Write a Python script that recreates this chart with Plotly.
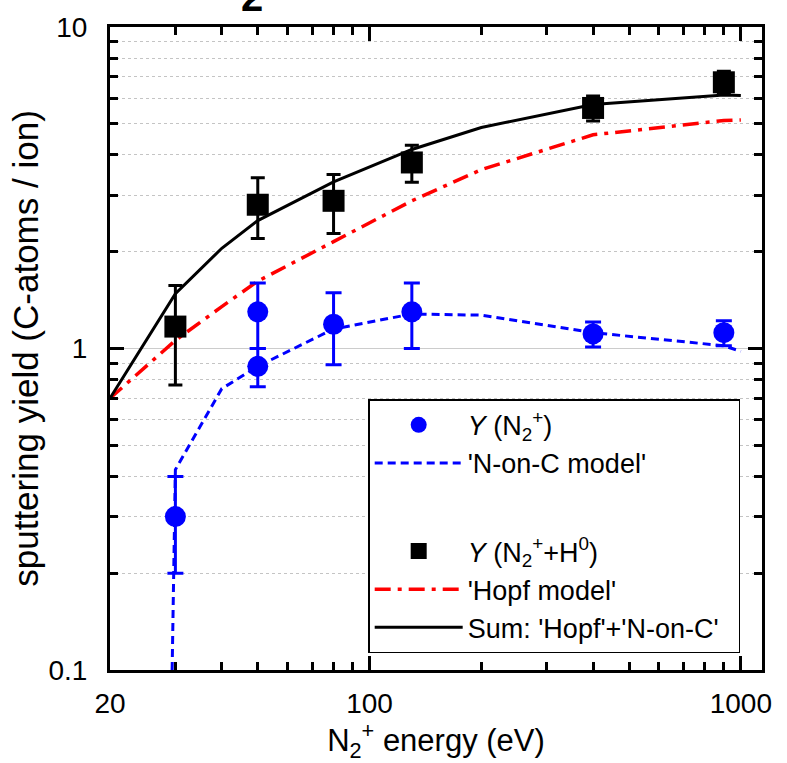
import plotly.graph_objects as go

# Measured sputtering yields, N2+ ions only
ion_energy = [30, 50, 50, 80, 130, 400, 900]
ion_yield = [0.30, 1.30, 0.88, 1.19, 1.30, 1.11, 1.12]
ion_err = [0.10, 0.30, 0.12, 0.30, 0.30, 0.10, 0.10]

# Measured sputtering yields, N2+ ions plus H0 background
mix_energy = [30, 50, 80, 130, 400, 900]
mix_yield = [1.17, 2.80, 2.88, 3.79, 5.60, 6.73]
mix_err = [0.40, 0.60, 0.60, 0.50, 0.50, 0.55]

# Model curves
nc_energy = [29.4, 30, 40, 50, 80, 130, 200, 400, 900, 1000]
nc_yield = [0.10, 0.42, 0.75, 0.88, 1.15, 1.28, 1.27, 1.12, 1.02, 0.98]

hopf_energy = [20, 30, 40, 50, 80, 130, 200, 400, 900, 1000]
hopf_yield = [0.70, 1.06, 1.35, 1.62, 2.15, 2.88, 3.60, 4.62, 5.12, 5.14]

sum_energy = [20, 30, 40, 50, 80, 130, 200, 400, 900, 1000]
sum_yield = [0.70, 1.48, 2.05, 2.50, 3.30, 4.16, 4.87, 5.74, 6.14, 6.12]

# Axis ticks
x_tickvals = [20, 100, 1000]
x_ticktext = ["20", "100", "1000"]
x_minor = [30, 40, 50, 60, 70, 80, 90, 200, 300, 400, 500, 600, 700, 800, 900]
y_tickvals = [0.1, 1, 10]
y_ticktext = ["0.1", "1", "10"]

FONT = "Liberation Sans, Arial, sans-serif"

fig = go.Figure()

fig.add_trace(go.Scatter(
    x=nc_energy, y=nc_yield, mode="lines", name="'N-on-C model'",
    line=dict(color="#0000ff", width=3, dash="8px,5px"),
    legendgroup="a", legendrank=2,
))
fig.add_trace(go.Scatter(
    x=hopf_energy, y=hopf_yield, mode="lines", name="'Hopf model'",
    line=dict(color="#ff0000", width=3.5, dash="16px,7px,4px,7px"),
    legendgroup="b", legendrank=4,
))
fig.add_trace(go.Scatter(
    x=sum_energy, y=sum_yield, mode="lines",
    name="Sum: 'Hopf'+'N-on-C'&nbsp;&nbsp;",
    line=dict(color="#000000", width=3),
    legendgroup="b", legendrank=5,
))
fig.add_trace(go.Scatter(
    x=mix_energy, y=mix_yield, mode="markers",
    name="<i>Y</i> (N<sub>2</sub><sup>+</sup>+H<sup>0</sup>)",
    marker=dict(symbol="square", size=22, color="#000000"),
    error_y=dict(type="data", array=mix_err, color="#000000", thickness=3, width=7),
    legendgroup="b", legendrank=3,
))
fig.add_trace(go.Scatter(
    x=ion_energy, y=ion_yield, mode="markers",
    name="<i>Y</i> (N<sub>2</sub><sup>+</sup>)",
    marker=dict(symbol="circle", size=21, color="#0000ff"),
    error_y=dict(type="data", array=ion_err, color="#0000ff", thickness=3, width=8),
    legendgroup="a", legendrank=1,
))

axis_common = dict(
    type="log",
    showline=True, linecolor="black", linewidth=3,
    mirror="allticks",
    ticks="inside", ticklen=14, tickwidth=2.5, tickcolor="black",
    tickfont=dict(family=FONT, size=28, color="black"),
    zeroline=False,
)

fig.update_xaxes(
    **axis_common,
    range=[1.301, 3.057],
    tickmode="array", tickvals=x_tickvals, ticktext=x_ticktext,
    showgrid=False,
    ticklabelstandoff=6,
    minor=dict(tickmode="array", tickvals=x_minor, ticks="inside",
               ticklen=8, tickwidth=2.5, tickcolor="black", showgrid=False),
    title=dict(text="N<sub>2</sub><sup>+</sup> energy (eV)",
               font=dict(family=FONT, size=31, color="black"), standoff=6),
)

fig.update_yaxes(
    **axis_common,
    range=[-1, 1],
    tickmode="array", tickvals=y_tickvals, ticktext=y_ticktext,
    showgrid=True, gridcolor="#cccccc", gridwidth=1,
    ticklabelstandoff=14,
    minor=dict(dtick="D1", ticks="inside", ticklen=8, tickwidth=2.5,
               tickcolor="black", showgrid=True, gridcolor="#c4c4c4",
               griddash="dot", gridwidth=1),
    title=dict(text="sputtering yield (C-atoms / ion)",
               font=dict(family=FONT, size=35, color="black"), standoff=0),
)

# Partial title glyph at the top edge
fig.add_annotation(
    x=(252 - 110) / 652, y=1.009, xref="paper", yref="paper",
    xanchor="center", yanchor="bottom", showarrow=False,
    text="<b>2</b>", font=dict(family=FONT, size=40, color="black"),
)

fig.update_layout(
    width=787, height=763,
    margin=dict(l=110, r=25, t=19, b=93),
    paper_bgcolor="white", plot_bgcolor="white",
    font=dict(family=FONT, color="black"),
    showlegend=True,
    legend=dict(
        x=0.396, y=0.421, xanchor="left", yanchor="top",
        bgcolor="white", bordercolor="black", borderwidth=1.5,
        font=dict(family=FONT, size=27, color="black"),
        traceorder="grouped", tracegroupgap=50, itemwidth=88,
    ),
)

fig.write_html("out.html")
